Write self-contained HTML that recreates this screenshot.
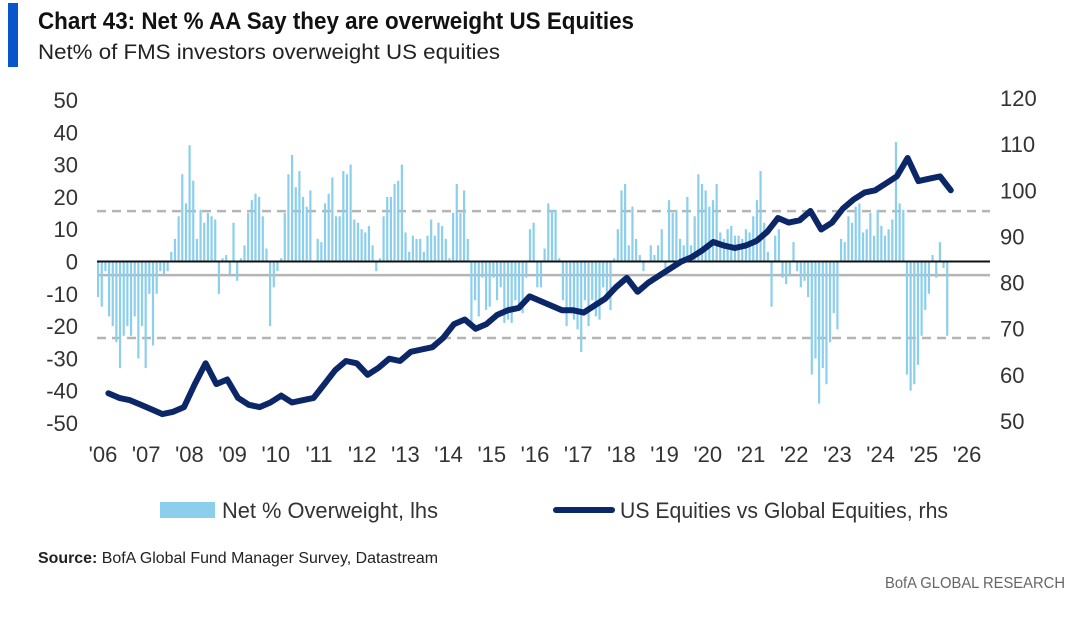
<!DOCTYPE html>
<html><head><meta charset="utf-8">
<style>
html,body{margin:0;padding:0;background:#fff;}
svg{display:block;font-family:"Liberation Sans",sans-serif;}
</style></head>
<body>
<svg id="chart" width="1080" height="625" viewBox="0 0 1080 625" xmlns="http://www.w3.org/2000/svg">
<rect x="8" y="3" width="10" height="64" fill="#0a55cc"/>
<text x="38" y="29" font-size="24" font-weight="bold" fill="#111" textLength="596" lengthAdjust="spacingAndGlyphs">Chart 43: Net % AA Say they are overweight US Equities</text>
<text x="38" y="59" font-size="21" fill="#222" textLength="462" lengthAdjust="spacingAndGlyphs">Net% of FMS investors overweight US equities</text>
<g id="grid"></g>
<g id="bars"></g>
<g id="zero"></g>
<g id="line"></g>
<g id="axes"></g>
<g>
<rect x="160" y="502" width="55" height="16" fill="#8ccfec"/>
<text x="222" y="518" font-size="22" fill="#333" textLength="216" lengthAdjust="spacingAndGlyphs">Net % Overweight, lhs</text>
<line x1="556" y1="510" x2="612" y2="510" stroke="#0b2767" stroke-width="6" stroke-linecap="round"/>
<text x="620" y="518" font-size="22" fill="#333" textLength="328" lengthAdjust="spacingAndGlyphs">US Equities vs Global Equities, rhs</text>
</g>
<text x="38" y="563" font-size="16" fill="#222" textLength="400" lengthAdjust="spacingAndGlyphs"><tspan font-weight="bold">Source:</tspan> BofA Global Fund Manager Survey, Datastream</text>
<text x="1065" y="588" font-size="16" fill="#666" text-anchor="end" textLength="180" lengthAdjust="spacingAndGlyphs">BofA GLOBAL RESEARCH</text>
</svg>
<script>
// Monthly Net % overweight US equities, Jan 2006 onward
const netOverweight = [
-11,-14,-3,-17,-20,-25,-33,-23,-20,-23,-17,-30,-20,-33,-10,-26,-10,-3,-4,-3,
3,7,14,27,18,36,25,7,16,12,15,14,13,-10,1,2,-4,12,-6,1,5,15,19,21,20,14,4,-20,-8,-3,1,15,27,33,23,28,20,17,22,0,7,6,18,21,26,14,14,28,27,30,13,12,10,9,11,5,-3,1,14,20,20,24,25,30,9,3,8,7,7,3,8,
13,8,12,11,7,1,15,24,15,22,
7,-20,-12,-17,-5,-15,-14,-5,-12,-8,
-19,-18,-19,-12,-14,-16,-5,10,12,-8,
-8,4,18,16,16,1,-12,-20,-15,-18,
-21,-28,-12,-20,-12,-17,-18,-8,-10,-15,
1,10,22,24,5,17,7,2,-3,0,
5,2,5,10,-2,19,15,16,7,5,
20,5,14,27,24,22,17,19,24,
9,7,10,11,8,8,7,10,9,14,
19,28,12,3,-14,8,10,-5,-7,-4,
6,-3,-8,-6,-11,-35,-30,-44,-33,-38,
-25,-16,-21,7,6,14,12,17,18,9,
10,15,8,16,11,8,10,13,37,18,
16,-35,-40,-38,-32,-23,-15,-10,2,-5,
6,-2,-23];
// Quarterly US vs Global equities relative index (rhs)
const relValues = [
56,55,54.5,53.5, 52.5,51.5,52,53, 58,62.5,58,59, 55,53.5,53,54, 55.5,54,54.5,55,
58,61,63,62.5, 60,61.5,63.5,63, 65,65.5,66,68, 71,72,70,71, 73,74,74.5,77,
76,75,74,74, 73.5,75,76.5,79, 81,78,80,81.5, 83,84.5,85.5,87, 88.8,88,87.5,88,
89,91,94,93, 93.5,95.5,91.5,93, 96,98,99.5,100, 101.5,103,107,102, 102.5,103,100];
const leftTicks = [50,40,30,20,10,0,-10,-20,-30,-40,-50];
const rightTicks = [120,110,100,90,80,70,60,50];
const yearLabels = ["'06","'07","'08","'09","'10","'11","'12","'13","'14","'15","'16","'17","'18","'19","'20","'21","'22","'23","'24","'25","'26"];
const refLines = {mean:-4.2, upper:15.6, lower:-23.7};

const NS="http://www.w3.org/2000/svg";
const yL = v => 261.5 - v*3.23;
const yR = v => 98 + (120 - v)*4.614;
const xM = i => 98 + i*3.66;
const xT = t => 103 + (t-2006)*43.2;
const xLab = k => 103 + k*43.2;
function mk(tag, attrs, parent){const e=document.createElementNS(NS,tag);for(const k in attrs)e.setAttribute(k,attrs[k]);parent.appendChild(e);return e;}

const grid=document.getElementById('grid');
let g=mk('line',{x1:97,x2:990,y1:yL(refLines.upper),y2:yL(refLines.upper),stroke:'#b5b5b5','stroke-width':2.5,'stroke-dasharray':'9,6'},grid);


g=mk('line',{x1:97,x2:990,y1:yL(refLines.lower),y2:yL(refLines.lower),stroke:'#b5b5b5','stroke-width':2.5,'stroke-dasharray':'9,6'},grid);


g=mk('line',{x1:97,x2:990,y1:yL(refLines.mean),y2:yL(refLines.mean),stroke:'#b5b5b5','stroke-width':2.5},grid);



const bars=document.getElementById('bars');
netOverweight.forEach((v,i)=>{
  const y0=yL(0), y1=yL(v);
  const r=mk('rect',{x:xM(i)-1,y:Math.min(y0,y1),width:2.2,height:Math.abs(y1-y0),fill:'#8ccfec'},bars);
  
  
});

const z=mk('line',{x1:97,x2:990,y1:yL(0),y2:yL(0),stroke:'#111','stroke-width':2},document.getElementById('zero'));



let d='';
relValues.forEach((v,k)=>{
  const t=2006 + (Math.floor(k/4)) + ((k%4)*3+1.5)/12;
  d+=(k?'L':'M')+xT(t).toFixed(1)+','+yR(v).toFixed(1);
});
const p=mk('path',{d:d,fill:'none',stroke:'#0b2767','stroke-width':6,'stroke-linejoin':'round','stroke-linecap':'round'},document.getElementById('line'));



const axes=document.getElementById('axes');
leftTicks.forEach(v=>{
  const t=mk('text',{x:78,y:yL(v)+8,'font-size':22,fill:'#333','text-anchor':'end'},axes);
  t.textContent=v;
  
  
});
rightTicks.forEach(v=>{
  const t=mk('text',{x:1000,y:yR(v)+8,'font-size':22,fill:'#333'},axes);
  t.textContent=v;
  
  
});
yearLabels.forEach((s,k)=>{
  const t=mk('text',{x:xLab(k),y:462,'font-size':22,fill:'#333','text-anchor':'middle'},axes);
  t.textContent=s;
  
  
});
</script>
</body></html>
